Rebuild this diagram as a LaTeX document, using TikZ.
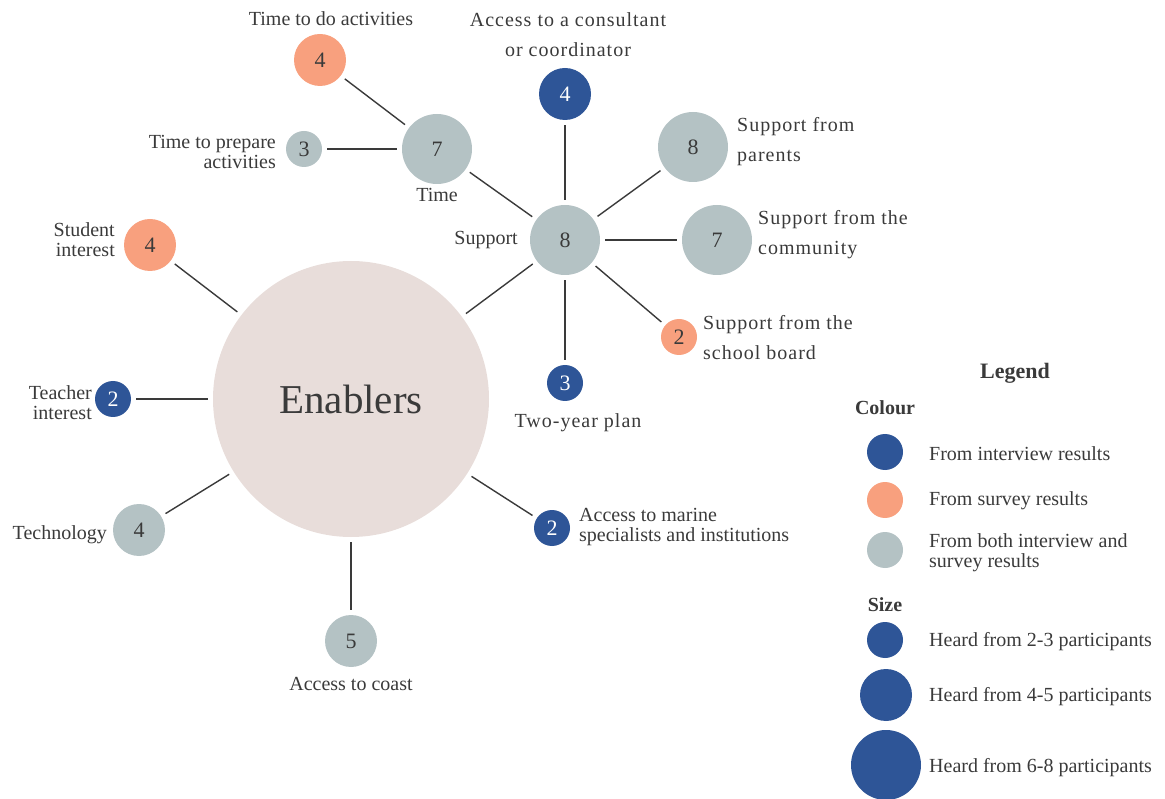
\documentclass[tikz,border=0pt]{standalone}
\usepackage{fontspec}
\setmainfont{Liberation Serif}
\newfontfamily\spaced[LetterSpace=5]{Liberation Serif}
\usetikzlibrary{positioning}

\definecolor{intblue}{HTML}{2E5597}
\definecolor{survorange}{HTML}{F8A07E}
\definecolor{bothgrey}{HTML}{B4C2C4}
\definecolor{enabpink}{HTML}{E8DDDA}
\definecolor{inkgrey}{HTML}{3A3A3A}

\tikzset{
  bubble/.style={circle, inner sep=0pt, text=inkgrey, font=\fontsize{22}{22}\selectfont},
  small/.style={bubble, minimum size=36pt},
  medium/.style={bubble, minimum size=52pt},
  large/.style={bubble, minimum size=70pt},
  intv/.style={fill=intblue, text=white},
  surv/.style={fill=survorange},
  both/.style={fill=bothgrey},
  lbl/.style={inner sep=0pt, text=inkgrey, font=\fontsize{20}{20}\selectfont},
  slbl/.style={inner sep=0pt, text=inkgrey, font=\fontsize{20}{30}\selectfont\spaced},
  head/.style={inner sep=0pt, text=inkgrey, font=\fontsize{20}{20}\selectfont\bfseries},
  link/.style={draw=inkgrey, line width=1.4pt, shorten <=5pt, shorten >=5pt}
}

\begin{document}
\begin{tikzpicture}[x=1pt, y=-1pt]
    \useasboundingbox (0,0) rectangle (1165,799);
    % main bubble
    \node[bubble, fill=enabpink, minimum size=276pt, font=\fontsize{41}{41}\selectfont] (enab) at (351,399) {Enablers};
    % time branch
    \node[large, both] (time) at (437,149) {7};
    \node[medium, surv] (tdo) at (320,60) {4};
    \node[small, both] (tprep) at (304,149) {3};
    \node[lbl] (ltime) at (437,195) {Time};
    \node[lbl] (ltdo) at (331,19) {Time to do activities};
    \node[lbl, anchor=east, align=right] (ltprep) at (276,152) {Time to prepare\\activities};
    % support branch
    \node[large, both] (supp) at (565,240) {8};
    \node[medium, intv] (cons) at (565,94) {4};
    \node[large, both] (par) at (693,147) {8};
    \node[large, both] (comm) at (717,240) {7};
    \node[small, surv] (board) at (679,337) {2};
    \node[small, intv] (plan) at (565,383) {3};
    \node[lbl, anchor=east] (lsupp) at (518,240) {Support};
    \node[slbl, align=center] (lcons) at (568,35) {Access to a consultant\\or coordinator};
    \node[slbl, anchor=west, align=left] (lpar) at (737,142) {Support from\\parents};
    \node[slbl, anchor=west, align=left] (lcomm) at (758,235) {Support from the\\community};
    \node[slbl, anchor=west, align=left] (lboard) at (703,338) {Support from the\\school board};
    \node[slbl] (lplan) at (578,423) {Two-year plan};
    % other enablers
    \node[medium, surv] (stud) at (150,245) {4};
    \node[small, intv] (teach) at (113,399) {2};
    \node[medium, both] (tech) at (139,530) {4};
    \node[medium, both] (coast) at (351,641) {5};
    \node[small, intv] (mar) at (552,528) {2};
    \node[lbl, anchor=east, align=right] (lstud) at (115,240) {Student\\interest};
    \node[lbl, anchor=east, align=right] (lteach) at (92,403) {Teacher\\interest};
    \node[lbl, anchor=east] (ltech) at (107,535) {Technology};
    \node[lbl] (lcoast) at (351,684) {Access to coast};
    \node[lbl, anchor=west, align=left] (lmar) at (579,527) {Access to marine\\specialists and institutions};
    % connectors
    \draw[link] (tdo) -- (time);
    \draw[link] (tprep) -- (time);
    \draw[link] (time) -- (supp);
    \draw[link] (cons) -- (supp);
    \draw[link] (par) -- (supp);
    \draw[link] (comm) -- (supp);
    \draw[link] (board) -- (supp);
    \draw[link] (plan) -- (supp);
    \draw[link] (enab) -- (supp);
    \draw[link] (stud) -- (enab);
    \draw[link] (teach) -- (enab);
    \draw[link] (tech) -- (enab);
    \draw[link] (coast) -- (enab);
    \draw[link] (mar) -- (enab);
    % legend
    \node[head, font=\fontsize{22}{22}\selectfont\bfseries] (leg) at (1015,373) {Legend};
    \node[head] (lcol) at (885,408) {Colour};
    \node[small, intv] (kint) at (885,452) {};
    \node[small, surv] (ksurv) at (885,500) {};
    \node[small, both] (kboth) at (885,550) {};
    \node[lbl, anchor=west] (tint) at (929,454) {From interview results};
    \node[lbl, anchor=west] (tsurv) at (929,501) {From survey results};
    \node[lbl, anchor=west, align=left] (tboth) at (929,553) {From both interview and\\survey results};
    \node[head] (lsize) at (885,605) {Size};
    \node[small, intv] (ksm) at (885,640) {};
    \node[medium, intv] (kmd) at (886,695) {};
    \node[large, intv] (klg) at (886,765) {};
    \node[lbl, anchor=west] (tsm) at (929,642) {Heard from 2-3 participants};
    \node[lbl, anchor=west] (tmd) at (929,697) {Heard from 4-5 participants};
    \node[lbl, anchor=west] (tlg) at (929,768) {Heard from 6-8 participants};
\end{tikzpicture}
\end{document}
